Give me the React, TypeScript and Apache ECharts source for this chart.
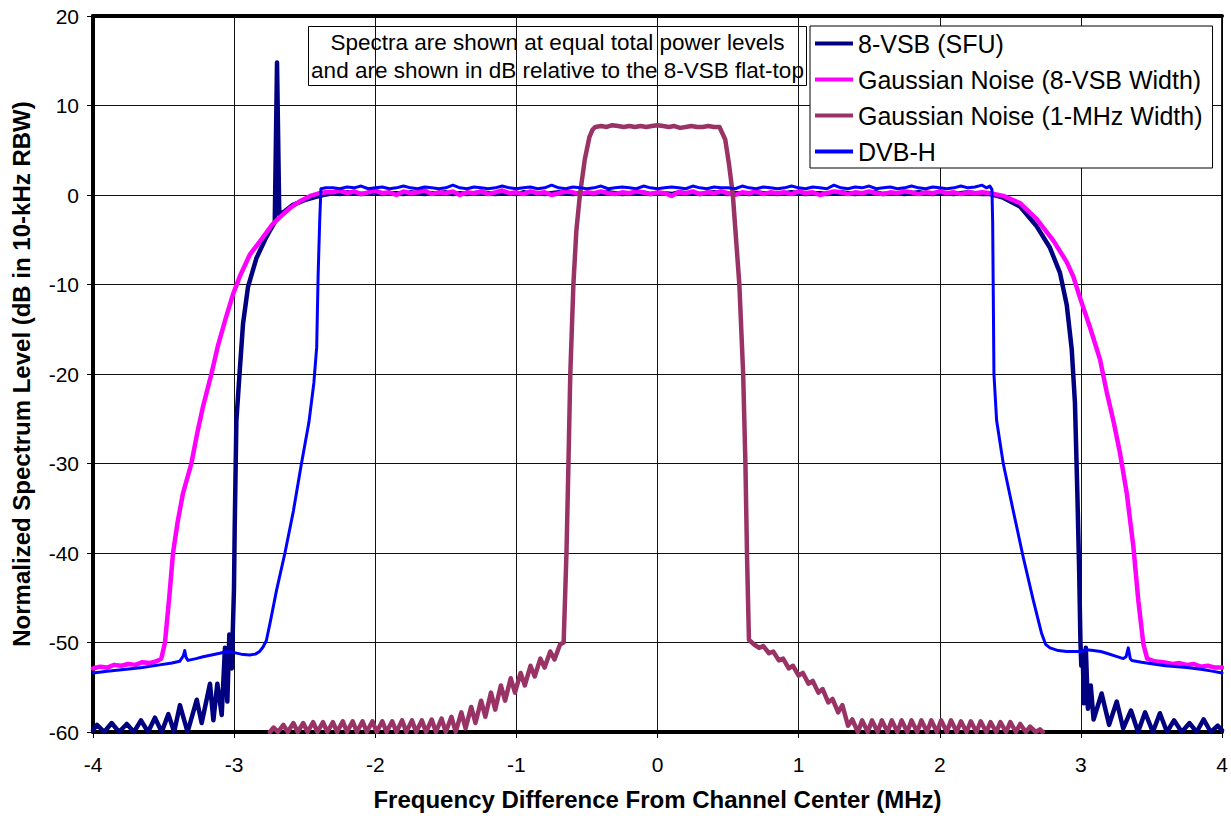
import React, { useEffect, useRef } from "react";
import * as echarts from "echarts";

// Spectrum measurements: frequency offset (MHz) vs level (dB in 10-kHz RBW)

const SERIES_NAMES = [
  "8-VSB (SFU)",
  "Gaussian Noise (8-VSB Width)",
  "Gaussian Noise (1-MHz Width)",
  "DVB-H",
];

// Common frequency grid across the flat-top passband
const FLAT_MHZ = [
  -2.3, -2.25, -2.2, -2.15, -2.1, -2.05, -2.0, -1.95, -1.9, -1.85, -1.8, -1.75, -1.7, -1.65, -1.6, -1.55,
  -1.5, -1.45, -1.4, -1.35, -1.3, -1.25, -1.2, -1.15, -1.1, -1.05, -1.0, -0.95, -0.9, -0.85, -0.8, -0.75,
  -0.7, -0.65, -0.6, -0.55, -0.5, -0.45, -0.4, -0.35, -0.3, -0.25, -0.2, -0.15, -0.1, -0.05, 0.0, 0.05,
  0.1, 0.15, 0.2, 0.25, 0.3, 0.35, 0.4, 0.45, 0.5, 0.55, 0.6, 0.65, 0.7, 0.75, 0.8, 0.85, 0.9, 0.95,
  1.0, 1.05, 1.1, 1.15, 1.2, 1.25, 1.3, 1.35, 1.4, 1.45, 1.5, 1.55, 1.6, 1.65, 1.7, 1.75, 1.8, 1.85,
  1.9, 1.95, 2.0, 2.05, 2.1, 2.15, 2.2, 2.25, 2.3,
];

// ---- 8-VSB (SFU) ----
const VSB_LEFT = [
  [-4.0, -59.8], [-3.972, -59.2], [-3.92, -60], [-3.868, -59.0], [-3.815, -60], [-3.761, -59.1],
  [-3.71, -60], [-3.66, -58.7], [-3.61, -60], [-3.561, -58.4], [-3.513, -60], [-3.466, -58.0],
  [-3.425, -60], [-3.384, -57.0], [-3.33, -60], [-3.265, -56.4], [-3.23, -59.0], [-3.171, -54.6],
  [-3.147, -58.7], [-3.119, -54.6], [-3.088, -58.1], [-3.065, -50.6], [-3.048, -56.6], [-3.034, -49.1],
  [-3.017, -52.9], [-3.001, -44.0], [-2.996, -37.3], [-2.984, -25.2], [-2.96, -19.6], [-2.937, -14.4],
  [-2.902, -10.3], [-2.843, -7.1], [-2.772, -4.7], [-2.725, -3.4], [-2.712, -3.0], [-2.696, 14.8],
  [-2.68, -2.2], [-2.64, -1.8], [-2.583, -1.1], [-2.488, -0.5], [-2.42, -0.2], [-2.37, 0.0],
];
const VSB_FLAT = [
  0.2, 0.1, 0.3, 0.2, 0.1, 0.2, 0.3, 0.1, 0.2, 0.2, 0.1, 0.3, 0.2, 0.1, 0.2, 0.2, 0.3, 0.1, 0.2, 0.1,
  0.2, 0.3, 0.2, 0.1, 0.2, 0.2, 0.1, 0.3, 0.2, 0.2, 0.1, 0.2, 0.3, 0.2, 0.1, 0.2, 0.2, 0.1, 0.2, 0.3,
  0.2, 0.1, 0.2, 0.2, 0.3, 0.1, 0.2, 0.2, 0.1, 0.3, 0.2, 0.2, 0.1, 0.2, 0.3, 0.2, 0.1, 0.2, 0.2, 0.1,
  0.3, 0.2, 0.2, 0.1, 0.2, 0.3, 0.2, 0.1, 0.2, 0.2, 0.1, 0.2, 0.3, 0.2, 0.1, 0.2, 0.2, 0.3, 0.1, 0.2,
  0.2, 0.1, 0.2, 0.3, 0.2, 0.1, 0.2, 0.2, 0.1, 0.2, 0.3, 0.2, 0.1,
];
const VSB_RIGHT = [
  [2.356, 0.1], [2.45, -0.3], [2.569, -1.3], [2.687, -3.5], [2.781, -5.9], [2.852, -8.7], [2.9, -12.3],
  [2.935, -17.2], [2.958, -23.2], [2.975, -33.3], [2.987, -41.3], [2.997, -50.0], [3.003, -52.6],
  [3.012, -51.0], [3.022, -56.8], [3.035, -50.6], [3.05, -57.4], [3.07, -54.8], [3.09, -58.6],
  [3.147, -55.7], [3.2, -59.2], [3.254, -56.6], [3.3, -59.6], [3.355, -57.6], [3.405, -60],
  [3.455, -57.8], [3.51, -60], [3.56, -57.9], [3.61, -60], [3.66, -58.7], [3.715, -60], [3.77, -59.0],
  [3.82, -60], [3.87, -58.6], [3.92, -60], [3.97, -59.3], [4.0, -59.8],
];

// ---- Gaussian noise, 8-VSB width ----
const NOISE_WIDE_LEFT = [
  [-4.0, -52.9], [-3.95, -52.7], [-3.9, -52.8], [-3.85, -52.5], [-3.8, -52.6], [-3.75, -52.4],
  [-3.7, -52.5], [-3.65, -52.2], [-3.6, -52.3], [-3.55, -52.1], [-3.516, -51.8], [-3.49, -50.0],
  [-3.46, -45.0], [-3.433, -40.0], [-3.4, -36.5], [-3.362, -33.3], [-3.303, -30.0], [-3.26, -26.5],
  [-3.22, -23.6], [-3.161, -20.0], [-3.114, -16.8], [-3.06, -13.8], [-3.008, -11.1], [-2.96, -9.1],
  [-2.89, -6.7], [-2.795, -4.7], [-2.73, -3.3], [-2.677, -2.5], [-2.6, -1.4], [-2.535, -0.7],
  [-2.46, -0.1], [-2.394, 0.2], [-2.35, 0.3],
];
const NOISE_WIDE_FLAT = [
  0.3, 0.5, 0.2, 0.4, 0.1, 0.3, 0.5, 0.2, 0.3, 0.0, 0.4, 0.2, 0.3, 0.5, 0.1, 0.3, 0.2, 0.4, 0.0, 0.3,
  0.2, 0.4, 0.1, 0.3, 0.5, 0.2, 0.3, 0.1, 0.4, 0.2, 0.3, 0.0, 0.2, 0.4, 0.3, 0.1, 0.3, 0.2, 0.4, 0.2,
  0.1, 0.3, 0.2, 0.4, 0.3, 0.1, 0.3, 0.2, -0.1, 0.3, 0.2, 0.4, 0.1, 0.3, 0.2, 0.4, 0.2, 0.0, 0.3, 0.2,
  0.4, 0.1, 0.3, 0.2, 0.3, 0.1, 0.4, 0.2, 0.3, 0.0, 0.2, 0.4, 0.3, 0.1, 0.3, 0.2, 0.4, 0.2, 0.1, 0.3,
  0.2, 0.4, 0.3, 0.1, 0.3, 0.2, 0.4, 0.2, 0.3, 0.1, 0.3, 0.2, 0.3,
];
const NOISE_WIDE_RIGHT = [
  [2.36, 0.2], [2.45, -0.1], [2.569, -0.9], [2.687, -2.7], [2.805, -5.1], [2.9, -7.5], [2.946, -9.1],
  [2.994, -11.5], [3.065, -14.8], [3.136, -18.4], [3.183, -22.0], [3.23, -25.2], [3.277, -28.8],
  [3.325, -33.3], [3.372, -39.3], [3.407, -45.3], [3.443, -50.2], [3.47, -51.8], [3.52, -52.1],
  [3.585, -52.2], [3.65, -52.4], [3.7, -52.3], [3.75, -52.5], [3.8, -52.4], [3.85, -52.7], [3.9, -52.6],
  [3.95, -52.8], [4.0, -52.8],
];

// ---- Gaussian noise, 1-MHz width ----
const NOISE_NARROW = [
  [-2.746, -60], [-2.72, -59.5], [-2.69, -60], [-2.651, -59.2], [-2.62, -60], [-2.58, -59.0],
  [-2.55, -60], [-2.51, -59.0], [-2.48, -60], [-2.44, -58.9], [-2.41, -60], [-2.37, -58.9],
  [-2.34, -60], [-2.3, -58.9], [-2.27, -60], [-2.23, -58.8], [-2.2, -60], [-2.16, -58.8],
  [-2.13, -60], [-2.09, -58.8], [-2.06, -60], [-2.02, -58.8], [-1.99, -60], [-1.95, -58.8],
  [-1.92, -60], [-1.88, -58.8], [-1.85, -60], [-1.81, -58.7], [-1.78, -60], [-1.74, -58.7],
  [-1.71, -60], [-1.67, -58.7], [-1.64, -60], [-1.6, -58.6], [-1.57, -60], [-1.53, -58.5],
  [-1.5, -60], [-1.46, -58.3], [-1.43, -60], [-1.39, -57.8], [-1.36, -59.6], [-1.32, -57.2],
  [-1.29, -59.0], [-1.25, -56.5], [-1.22, -58.3], [-1.18, -55.6], [-1.15, -57.5], [-1.11, -54.8],
  [-1.08, -56.5], [-1.04, -54.0], [-1.01, -55.6], [-0.97, -53.4], [-0.94, -54.8], [-0.9, -52.6],
  [-0.87, -53.8], [-0.83, -51.8], [-0.8, -52.8], [-0.76, -51.0], [-0.73, -51.9], [-0.69, -50.2],
  [-0.665, -50.0],
  [-0.655, -45.0], [-0.645, -40.0], [-0.631, -30.0], [-0.618, -20.0], [-0.596, -10.0], [-0.575, -4.0],
  [-0.55, 0.0], [-0.515, 4.0], [-0.482, 6.5], [-0.46, 7.3], [-0.44, 7.6],
  [-0.4, 7.7], [-0.36, 7.6], [-0.32, 7.8], [-0.28, 7.7], [-0.24, 7.6], [-0.2, 7.7], [-0.16, 7.6],
  [-0.12, 7.7], [-0.08, 7.6], [-0.04, 7.7], [0.0, 7.8], [0.04, 7.7], [0.08, 7.6], [0.12, 7.7],
  [0.16, 7.5], [0.2, 7.6], [0.24, 7.7], [0.28, 7.6], [0.32, 7.6], [0.36, 7.7], [0.4, 7.6], [0.439, 7.6],
  [0.48, 6.2], [0.507, 3.4], [0.534, 0.0], [0.58, -10.0], [0.607, -20.0], [0.623, -30.0],
  [0.634, -40.0], [0.641, -45.0], [0.648, -49.7],
  [0.683, -50.2], [0.72, -50.6], [0.75, -50.4], [0.79, -51.2], [0.82, -51.0], [0.86, -52.0],
  [0.89, -51.8], [0.93, -52.9], [0.96, -52.6], [1.0, -53.7], [1.03, -53.4], [1.07, -54.6],
  [1.1, -54.3], [1.14, -55.6], [1.17, -55.2], [1.21, -56.7], [1.24, -56.3], [1.28, -57.8],
  [1.31, -57.0], [1.35, -59.3], [1.38, -58.6], [1.42, -60], [1.45, -58.7], [1.49, -60],
  [1.52, -58.7], [1.56, -60], [1.59, -58.7], [1.63, -60], [1.66, -58.7], [1.7, -60], [1.73, -58.7],
  [1.77, -60], [1.8, -58.7], [1.84, -60], [1.87, -58.7], [1.91, -60], [1.94, -58.7], [1.98, -60],
  [2.01, -58.7], [2.05, -60], [2.08, -58.7], [2.12, -60], [2.15, -58.8], [2.19, -60], [2.22, -58.8],
  [2.26, -60], [2.29, -58.8], [2.33, -60], [2.36, -58.9], [2.4, -60], [2.43, -58.9], [2.47, -60],
  [2.5, -58.9], [2.54, -60], [2.57, -59.1], [2.61, -60], [2.64, -59.4], [2.68, -60], [2.71, -59.7],
  [2.73, -60],
];

// ---- DVB-H ----
const DVBH_LEFT = [
  [-4.0, -53.4], [-3.9, -53.2], [-3.764, -53.0], [-3.65, -52.8], [-3.528, -52.5], [-3.44, -52.3],
  [-3.386, -52.1], [-3.36, -51.5], [-3.35, -50.9], [-3.34, -51.7], [-3.327, -52.0], [-3.27, -51.8],
  [-3.22, -51.6], [-3.16, -51.4], [-3.102, -51.2], [-3.05, -51.0], [-3.008, -51.1], [-2.95, -51.3],
  [-2.89, -51.4], [-2.85, -51.3], [-2.819, -51.0], [-2.795, -50.5], [-2.772, -49.8], [-2.745, -47.8],
  [-2.7, -44.2], [-2.64, -40.0], [-2.58, -35.3], [-2.525, -30.2], [-2.47, -25.4], [-2.435, -21.0],
  [-2.415, -17.0], [-2.405, -9.1], [-2.394, -3.1], [-2.385, 0.7], [-2.35, 0.8],
];
const DVBH_FLAT = [
  0.8, 0.7, 0.9, 0.8, 1.0, 0.7, 0.8, 0.9, 0.7, 0.8, 1.0, 0.8, 0.7, 0.9, 0.8, 0.7, 0.8, 1.1, 0.8, 0.7,
  0.9, 0.8, 0.7, 0.8, 1.0, 0.8, 0.7, 0.8, 0.9, 0.7, 0.8, 1.1, 0.8, 0.7, 0.9, 0.8, 0.7, 0.8, 1.0, 0.7,
  0.8, 0.9, 0.8, 0.7, 1.0, 0.8, 0.7, 0.8, 0.9, 0.8, 0.7, 1.0, 0.8, 0.7, 0.9, 0.8, 0.8, 0.7, 1.0, 0.8,
  0.7, 0.9, 0.8, 0.7, 0.8, 1.0, 0.8, 0.7, 0.9, 0.8, 0.7, 1.1, 0.8, 0.7, 0.9, 0.8, 1.0, 0.7, 0.8, 0.9,
  0.7, 0.8, 1.0, 0.8, 0.7, 0.9, 0.8, 0.7, 0.8, 1.0, 0.8, 0.9, 1.1,
];
const DVBH_RIGHT = [
  [2.33, 0.8], [2.355, 1.0], [2.37, 0.6], [2.375, -3.1], [2.384, -20.0], [2.403, -25.2], [2.45, -30.0],
  [2.521, -35.3], [2.592, -40.5], [2.663, -45.3], [2.722, -49.0], [2.75, -50.2], [2.781, -50.6],
  [2.84, -50.9], [2.9, -51.0], [2.994, -51.0], [3.04, -50.8], [3.088, -50.9], [3.14, -51.0],
  [3.183, -51.2], [3.24, -51.5], [3.301, -51.8], [3.32, -51.6], [3.336, -50.6], [3.35, -51.8],
  [3.36, -52.0], [3.43, -52.2], [3.513, -52.4], [3.6, -52.6], [3.75, -52.8], [3.85, -53.0],
  [3.93, -53.2], [4.0, -53.4],
];

const NOTE_LINES = [
  "Spectra are shown at equal total power levels",
  "and are shown in dB relative to the 8-VSB flat-top",
];

const COLORS = ["#000080", "#FF00FF", "#993366", "#0000FF"];
const WIDTHS = [4.5, 4.5, 4.5, 3];
const FONT = "'Liberation Sans', Arial, Helvetica, sans-serif";

const withGrid = (xs: number[], ys: number[]) => xs.map((x, i) => [x, ys[i]]);

export default function App() {
  const ref = useRef<HTMLDivElement>(null);

  useEffect(() => {
    if (!ref.current) return;
    const chart = echarts.init(ref.current, undefined, { renderer: "svg" });

    const seriesData = [
      [...VSB_LEFT, ...withGrid(FLAT_MHZ, VSB_FLAT), ...VSB_RIGHT],
      [...NOISE_WIDE_LEFT, ...withGrid(FLAT_MHZ, NOISE_WIDE_FLAT), ...NOISE_WIDE_RIGHT],
      NOISE_NARROW,
      [...DVBH_LEFT, ...withGrid(FLAT_MHZ, DVBH_FLAT), ...DVBH_RIGHT],
    ];

    chart.setOption({
      animation: false,
      backgroundColor: "#ffffff",
      textStyle: { fontFamily: FONT },
      grid: {
        left: 93,
        right: 9,
        top: 16,
        bottom: 83,
        show: true,
        borderColor: "#000",
        borderWidth: 1,
        backgroundColor: "transparent",
      },
      legend: {
        orient: "vertical",
        left: 810,
        top: 26,
        data: SERIES_NAMES.map((name, i) => ({
          name,
          icon: "rect",
          itemStyle: { color: COLORS[i] },
        })),
        itemWidth: 38,
        itemHeight: 4,
        itemGap: 11,
        padding: [5, 10, 4, 5],
        backgroundColor: "#ffffff",
        borderColor: "#000",
        borderWidth: 1,
        borderRadius: 0,
        textStyle: { fontSize: 25, color: "#000", fontFamily: FONT },
      },
      xAxis: [
        {
          type: "value",
          min: -4,
          max: 4,
          interval: 1,
          name: "Frequency Difference From Channel Center (MHz)",
          nameLocation: "middle",
          nameGap: 55,
          nameTextStyle: { fontSize: 24, fontWeight: "bold", color: "#000", fontFamily: FONT },
          axisLine: { onZero: false, lineStyle: { color: "#000", width: 4 } },
          axisTick: { show: true, length: 6, lineStyle: { color: "#000", width: 1 } },
          axisLabel: { fontSize: 21, color: "#000", margin: 22, fontFamily: FONT },
          splitLine: { show: true, lineStyle: { color: "#111", width: 1 } },
        },
        {
          type: "value",
          position: "top",
          min: -4,
          max: 4,
          interval: 1,
          axisLine: { show: true, onZero: false, lineStyle: { color: "#000", width: 4 } },
          axisTick: { show: false },
          axisLabel: { show: false },
          splitLine: { show: false },
        },
      ],
      yAxis: [
        {
          type: "value",
          min: -60,
          max: 20,
          interval: 10,
          name: "Normalized Spectrum Level (dB in 10-kHz RBW)",
          nameLocation: "middle",
          nameGap: 60,
          nameTextStyle: { fontSize: 24, fontWeight: "bold", color: "#000", fontFamily: FONT },
          axisLine: { show: true, onZero: false, lineStyle: { color: "#000", width: 4 } },
          axisTick: { show: true, length: 6, lineStyle: { color: "#000", width: 1 } },
          axisLabel: { fontSize: 21, color: "#000", margin: 14, fontFamily: FONT },
          splitLine: { show: true, lineStyle: { color: "#111", width: 1 } },
        },
        {
          type: "value",
          position: "right",
          min: -60,
          max: 20,
          interval: 10,
          axisLine: { show: true, onZero: false, lineStyle: { color: "#000", width: 1.5 } },
          axisTick: { show: false },
          axisLabel: { show: false },
          splitLine: { show: false },
        },
      ],
      series: SERIES_NAMES.map((name, i) => ({
        name,
        type: "line",
        xAxisIndex: 0,
        yAxisIndex: 0,
        data: seriesData[i],
        symbol: "none",
        showSymbol: false,
        color: COLORS[i],
        lineStyle: { color: COLORS[i], width: WIDTHS[i], join: "round", cap: "round" },
        z: 2 + i,
      })),
      graphic: [
        {
          type: "group",
          left: 308,
          top: 26,
          z: 20,
          children: [
            {
              type: "rect",
              shape: { x: 0, y: 0, width: 498, height: 59 },
              style: { fill: "#ffffff", stroke: "#000", lineWidth: 1 },
            },
            {
              type: "text",
              x: 249,
              y: 16,
              style: {
                text: NOTE_LINES[0],
                fontSize: 22.5,
                fontFamily: FONT,
                fill: "#000",
                align: "center",
                verticalAlign: "middle",
              },
            },
            {
              type: "text",
              x: 249,
              y: 44,
              style: {
                text: NOTE_LINES[1],
                fontSize: 22.5,
                fontFamily: FONT,
                fill: "#000",
                align: "center",
                verticalAlign: "middle",
              },
            },
          ],
        },
      ],
    });

    return () => chart.dispose();
  }, []);

  return (
    <div
      ref={ref}
      style={{ position: "fixed", left: 0, top: 0, width: 1231, height: 816, background: "#fff" }}
    />
  );
}
